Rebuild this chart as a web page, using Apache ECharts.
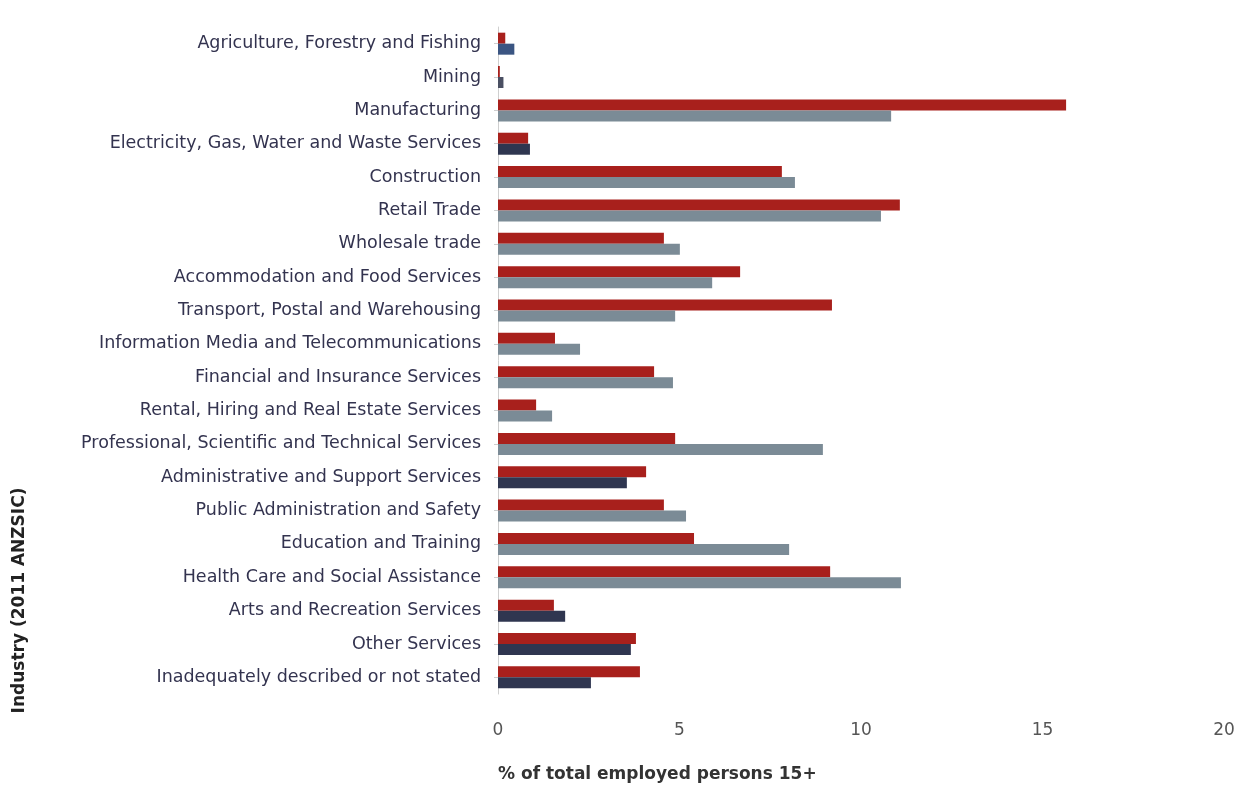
<!DOCTYPE html>
<html>
<head>
<meta charset="utf-8">
<script src="https://cdn.jsdelivr.net/npm/echarts@6/dist/echarts.min.js"></script>
<style>
  html, body { margin: 0; padding: 0; background: #fff; }
  #chart { width: 1246px; height: 785px; }
</style>
</head>
<body>
<div id="chart"></div>
<script>
var industries = [
  'Agriculture, Forestry and Fishing',
  'Mining',
  'Manufacturing',
  'Electricity, Gas, Water and Waste Services',
  'Construction',
  'Retail Trade',
  'Wholesale trade',
  'Accommodation and Food Services',
  'Transport, Postal and Warehousing',
  'Information Media and Telecommunications',
  'Financial and Insurance Services',
  'Rental, Hiring and Real Estate Services',
  'Professional, Scientific and Technical Services',
  'Administrative and Support Services',
  'Public Administration and Safety',
  'Education and Training',
  'Health Care and Social Assistance',
  'Arts and Recreation Services',
  'Other Services',
  'Inadequately described or not stated'
];
var redValues = [0.2, 0.05, 15.65, 0.83, 7.82, 11.07, 4.57, 6.67, 9.2, 1.57, 4.3, 1.05, 4.88, 4.08, 4.57, 5.4, 9.15, 1.54, 3.8, 3.91];
var greyValues = [0.45, 0.15, 10.83, 0.88, 8.18, 10.55, 5.01, 5.9, 4.88, 2.26, 4.82, 1.49, 8.95, 3.55, 5.18, 8.02, 11.1, 1.85, 3.66, 2.56];
var xTicks = [0, 5, 10, 15, 20];

// the second series is printed in a darker shade on some rows
var greyShade = ['#3b5582', '#4a4f62', '#7b8b96', '#2f3650', '#7b8b96', '#7b8b96', '#7b8b96', '#7b8b96', '#7b8b96', '#7b8b96',
  '#7b8b96', '#7b8b96', '#7b8b96', '#2f3650', '#7b8b96', '#7b8b96', '#7b8b96', '#2f3650', '#2f3650', '#2f3650'];

var myChart = echarts.init(document.getElementById('chart'));

var greyData = greyValues.map(function (v, i) {
  return { value: v, itemStyle: { color: greyShade[i] } };
});

var option = {
  animation: false,
  textStyle: { fontFamily: 'DejaVu Sans, sans-serif' },
  grid: { left: 498, right: 22, top: 27, bottom: 91, containLabel: false },
  xAxis: {
    type: 'value',
    min: xTicks[0],
    max: xTicks[xTicks.length - 1],
    interval: 5,
    name: '% of total employed persons 15+',
    nameLocation: 'start',
    nameGap: 0,
    nameTextStyle: {
      fontSize: 17, fontWeight: 'bold', color: '#333',
      align: 'left', verticalAlign: 'top', padding: [72, 0, 0, 0]
    },
    axisLine: { show: false },
    axisTick: { show: false },
    splitLine: { show: false },
    axisLabel: { fontSize: 17, color: '#555', margin: 28 }
  },
  yAxis: {
    type: 'category',
    inverse: true,
    data: industries,
    name: 'Industry (2011 ANZSIC)',
    nameLocation: 'middle',
    nameRotate: 90,
    nameGap: 470,
    nameTextStyle: { fontSize: 17, fontWeight: 'bold', color: '#222', padding: [0, 0, 0, -480] },
    axisLine: { show: true, lineStyle: { color: '#cfcfcf' } },
    axisTick: { show: true, length: 4, lineStyle: { color: '#cfcfcf' }, alignWithLabel: true },
    axisLabel: { fontSize: 17.5, color: '#33334f', margin: 17 }
  },
  series: [
    {
      name: 'Red',
      type: 'bar',
      data: redValues,
      barWidth: 11,
      barGap: '0%',
      itemStyle: { color: '#a8201c' }
    },
    {
      name: 'Grey',
      type: 'bar',
      data: greyData,
      barWidth: 11,
      itemStyle: { color: '#7b8b96' }
    }
  ]
};

option && myChart.setOption(option);
</script>
</body>
</html>
